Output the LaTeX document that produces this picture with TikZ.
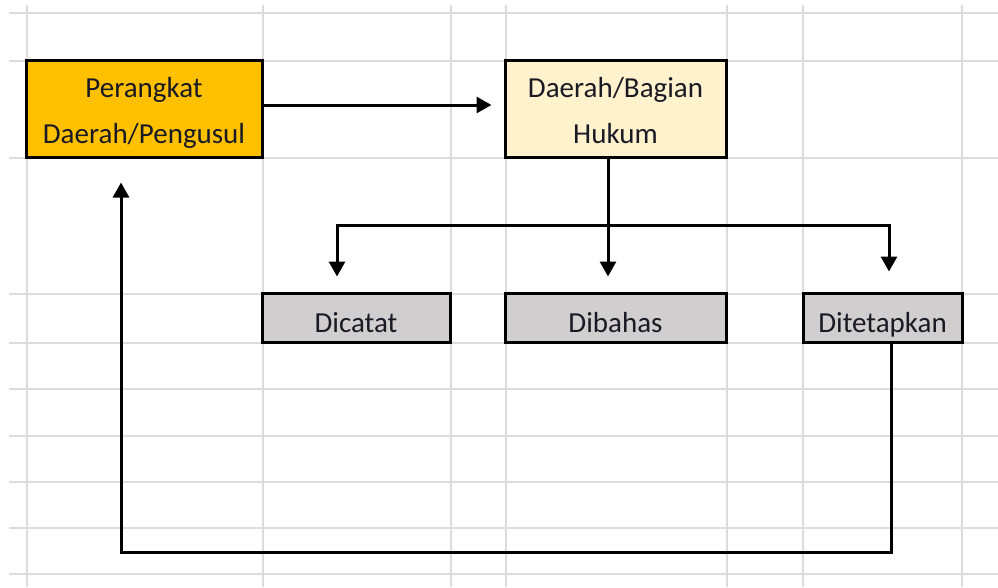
\documentclass[tikz,border=0pt]{standalone}
\usepackage{fontspec}
\setmainfont{Carlito}
\usepackage{tikz}
\usetikzlibrary{arrows.meta, calc, positioning}
\usepackage{xcolor}
\definecolor{myorange}{HTML}{FFC000}
\definecolor{mycream}{HTML}{FFF2CC}
\definecolor{mygray}{HTML}{D0CECE}
\definecolor{gridgray}{HTML}{DCDCDC}
\definecolor{txtcol}{HTML}{1A1A24}
\tikzset{
	box/.style={draw, line width=3pt, inner sep=0pt, align=center, text=txtcol, font=\fontsize{29}{46}\selectfont},
	onebox/.style={box, text height=29pt, text depth=0pt, minimum height=49pt},
	twobox/.style={box, text height=75pt, text depth=6pt, minimum height=97pt},
	arr/.style={line width=3pt, -{Triangle[length=15pt,width=16pt]}},
	gridline/.style={gridgray, line width=2pt}
}

\begin{document}
\begin{tikzpicture}[x=1pt, y=-1pt]
			\useasboundingbox (0,0) rectangle (998,587);
			% spreadsheet grid
			\foreach \gx in {27,263,451,506,727,803,962}
				\draw [gridline] (\gx,5) -- (\gx,587);
			\foreach \gy in {13,61,158,294,343,389,436,482,528,574}
				\draw [gridline] (9,\gy) -- (998,\gy);
			% boxes
			\node [twobox, fill=myorange, minimum width=236pt] (pengusul) at (144,108.5) {Perangkat\\Daerah/Pengusul};
			\node [twobox, fill=mycream, minimum width=221pt] (hukum) at (615.5,108.5) {Daerah/Bagian\\Hukum};
			\node [onebox, fill=mygray, minimum width=188pt] (dicatat) at (356,317.5) {Dicatat};
			\node [onebox, fill=mygray, minimum width=221pt] (dibahas) at (615.5,317.5) {Dibahas};
			\node [onebox, fill=mygray, minimum width=159pt] (ditetapkan) at (882.5,317.5) {Ditetapkan};
			% connectors
			\coordinate (split) at (608,225);
			\coordinate (back) at (121,552);
			\draw [arr, shorten >=12pt] ([yshift=3.5pt]pengusul.east) -- ([yshift=3.5pt]pengusul.east -| hukum.west);
			\draw [arr, shorten >=15pt] ([xshift=-7.5pt]hukum.south) -- ([xshift=-7.5pt]dibahas.north);
			\draw [arr, shorten >=15pt] (split) -| ([xshift=-19pt]dicatat.north);
			\draw [arr, shorten >=20pt] (split) -| ([xshift=6.5pt]ditetapkan.north);
			\draw [arr, shorten >=24pt] ([xshift=8.5pt]ditetapkan.south) |- (back) -- (back |- pengusul.south);
		\end{tikzpicture}
\end{document}
